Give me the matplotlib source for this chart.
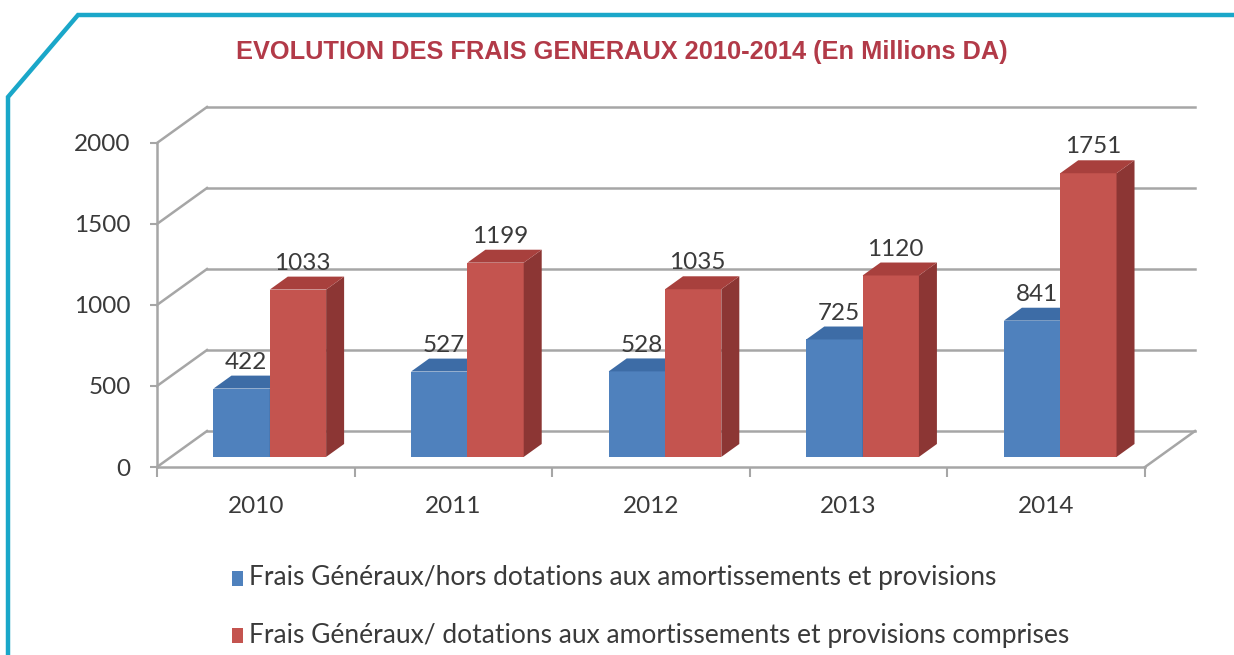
import matplotlib
matplotlib.use("Agg")
import matplotlib.pyplot as plt
from matplotlib.patches import Polygon
from matplotlib.lines import Line2D

# ---- data ----
years = ["2010", "2011", "2012", "2013", "2014"]
hors_dotations = [422, 527, 528, 725, 841]
avec_dotations = [1033, 1199, 1035, 1120, 1751]
yticks = [0, 500, 1000, 1500, 2000]
series_names = ["Frais Généraux/hors dotations aux amortissements et provisions",
                "Frais Généraux/ dotations aux amortissements et provisions comprises"]
title = "EVOLUTION DES FRAIS GENERAUX 2010-2014 (En Millions DA)"

# ---- style ----
W, H = 1234, 655
fig = plt.figure(figsize=(W / 100, H / 100), dpi=100)
fig.patch.set_facecolor("white")

FONT = ["Lato", "DejaVu Sans"]
grid_c = "#a6a6a6"
txt_c = "#3a3a3a"
blue = dict(front="#4f81bd", top="#3d6ca6", side="#345d90")
red = dict(front="#c4544f", top="#a8403d", side="#8c3634")

# axes: front plane, left at x=157px, bottom at y=467px
ax_l, ax_b, ax_w, ax_h = 157, H - 467, 1195 - 157, 467 - 107
ax = fig.add_axes([ax_l / W, ax_b / H, ax_w / W, ax_h / H])
n = len(years)
DX = 0.253   # depth offset in x (category units)
DY = 222.0   # depth offset in y (value units)
ax.set_xlim(0, n + DX)
ax.set_ylim(0, 2000 + DY)
ax.set_facecolor("none")

for s in ["top", "right"]:
    ax.spines[s].set_visible(False)
for s in ["left", "bottom"]:
    ax.spines[s].set_color(grid_c)
    ax.spines[s].set_linewidth(1.8)
ax.spines["left"].set_bounds(0, 2000)
ax.spines["bottom"].set_bounds(0, n)

NUMFS = 17.5
ax.set_yticks(yticks)
ax.set_yticklabels([str(v) for v in yticks], fontfamily=FONT, fontsize=NUMFS, color=txt_c)
ax.tick_params(axis="y", length=5, width=1.5, color=grid_c, pad=14)
ax.set_xticks(range(n + 1))
ax.set_xticklabels([])
ax.tick_params(axis="x", which="major", length=7, width=1.5, color=grid_c)
ax.set_xticks([i + 0.5 for i in range(n)], minor=True)
ax.set_xticklabels(years, minor=True, fontfamily=FONT, fontsize=NUMFS, color=txt_c)
ax.tick_params(axis="x", which="minor", length=0, pad=21)

# back wall gridlines and left wall diagonals
for v in yticks:
    ax.add_line(Line2D([DX, n + DX], [v + DY, v + DY], color=grid_c, lw=1.8, zorder=1, clip_on=False))
    ax.add_line(Line2D([0, DX], [v, v + DY], color=grid_c, lw=1.8, zorder=1, clip_on=False))
# floor right edge
ax.add_line(Line2D([n, n + DX], [0, DY], color=grid_c, lw=1.8, zorder=1, clip_on=False))

# bars
zf, zb = 0.28, 0.64
bw = 0.285
ox, oy = zf * DX, zf * DY
ddx, ddy = (zb - zf) * DX, (zb - zf) * DY


def bar3d(xl, val, col):
    xr = xl + bw
    ax.bar(xl, val, width=bw, bottom=oy, align="edge", color=col["front"], zorder=3, linewidth=0)
    top = Polygon([(xl, oy + val), (xr, oy + val), (xr + ddx, oy + val + ddy), (xl + ddx, oy + val + ddy)],
                  closed=True, facecolor=col["top"], edgecolor="none", zorder=3)
    side = Polygon([(xr, oy), (xr + ddx, oy + ddy), (xr + ddx, oy + val + ddy), (xr, oy + val)],
                   closed=True, facecolor=col["side"], edgecolor="none", zorder=3)
    ax.add_patch(side)
    ax.add_patch(top)
    ax.text(xl + bw / 2 + ddx * 0.25, oy + val + ddy + 42, str(val), ha="center", va="baseline",
            fontfamily=FONT, fontsize=NUMFS, color=txt_c, zorder=4)


for i in range(n):
    c = i + 0.5 + ox
    bar3d(c - bw, hors_dotations[i], blue)
    bar3d(c, avec_dotations[i], red)

# title
fig.text(622 / W, 1 - 52 / H, title, ha="center", va="center", fontfamily=["Liberation Sans", "DejaVu Sans"],
         fontweight="bold", fontsize=18.3, color="#b23a48")

# legend
leg_y = [578, 635]
for k, (name, col) in enumerate(zip(series_names, [blue, red])):
    y = leg_y[k]
    fig.patches.append(plt.Rectangle((232 / W, 1 - (y + 8) / H), 11 / W, 15 / H, transform=fig.transFigure,
                                     facecolor=col["front"], edgecolor="none"))
    fig.text(249 / W, 1 - y / H, name, ha="left", va="center", fontfamily=FONT, fontsize=19, color=txt_c)

# cyan border
fig.add_artist(Line2D([8 / W, 8 / W, 78 / W, 1.0], [0, 1 - 97 / H, 1 - 15 / H, 1 - 15 / H],
                      transform=fig.transFigure, color="#1aa7c9", lw=3.2, solid_joinstyle="miter"))

fig.savefig("out.png", dpi=100, facecolor="white")
